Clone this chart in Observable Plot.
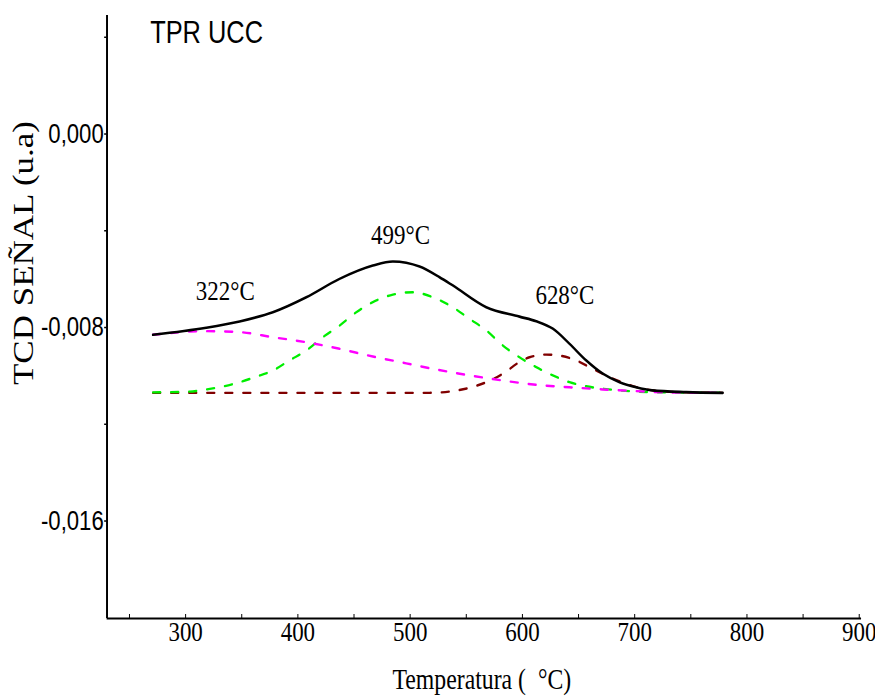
<!DOCTYPE html>
<html>
<head>
<meta charset="utf-8">
<script src="https://cdn.jsdelivr.net/npm/d3@7"></script>
<script src="https://cdn.jsdelivr.net/npm/@observablehq/plot@0.6"></script>
<style>
  html, body { margin: 0; padding: 0; background: #fff; overflow: hidden; }
  #chart { width: 875px; height: 696px; }
</style>
</head>
<body>
<div id="chart"></div>
<script>
// ---- data ----
const blackT = [270.9, 318.4, 348.1, 377.7, 407.5, 437.1, 466.8, 484.6, 508.4, 526.2, 538.0, 567.8, 597.4, 612.3, 627.1, 641.9, 656.8, 671.6, 686.5, 701.3, 715.9, 745.9, 778.5];
const blackV = [-0.00830, -0.00801, -0.00775, -0.00737, -0.00675, -0.00599, -0.00544, -0.00527, -0.00548, -0.00592, -0.00626, -0.00716, -0.00755, -0.00774, -0.00805, -0.00867, -0.00936, -0.00991, -0.01026, -0.01047, -0.01060, -0.01067, -0.01070];

const magentaT = [270.9, 318.4, 348.1, 377.7, 407.5, 437.1, 466.8, 496.5, 517.3, 552.9, 582.5, 612.3, 641.9, 671.6, 701.3, 731.0, 778.2];
const magentaV = [-0.00830, -0.00815, -0.00819, -0.00840, -0.00861, -0.00888, -0.00920, -0.00948, -0.00968, -0.00998, -0.01019, -0.01037, -0.01047, -0.01056, -0.01063, -0.01069, -0.01070];

const greenT = [270.9, 303.6, 318.4, 333.2, 348.1, 363.0, 377.7, 392.6, 407.5, 422.3, 437.1, 452.0, 466.8, 484.6, 502.4, 520.2, 538.0, 552.9, 567.8, 582.5, 597.4, 612.3, 627.1, 641.9, 656.8, 671.6, 686.5, 715.9, 778.2];
const greenV = [-0.01068, -0.01065, -0.01056, -0.01044, -0.01026, -0.01003, -0.00978, -0.00936, -0.00895, -0.00840, -0.00792, -0.00737, -0.00695, -0.00664, -0.00654, -0.00675, -0.00716, -0.00764, -0.00812, -0.00874, -0.00923, -0.00964, -0.00998, -0.01026, -0.01043, -0.01053, -0.01060, -0.01067, -0.01070];

const darkredT = [270.9, 400.0, 495.0, 517.3, 538.0, 552.9, 567.8, 582.5, 597.4, 606.3, 621.2, 633.0, 647.9, 662.7, 677.6, 692.4, 707.2, 722.0, 745.9, 778.2];
const darkredV = [-0.01070, -0.01070, -0.01070, -0.01070, -0.01063, -0.01049, -0.01026, -0.00991, -0.00943, -0.00923, -0.00912, -0.00916, -0.00936, -0.00971, -0.01005, -0.01033, -0.01053, -0.01063, -0.01068, -0.01070];

const peakLabels = ["322°C", "499°C", "628°C"];
const peakLabelT = [335.3, 491.4, 637.8];
const peakLabelV = [-0.00688, -0.00453, -0.00701];

const titleText = ["TPR UCC"];
const titleT = [268.4];
const titleV = [0.00375];

const xLabelTicks = [300, 400, 500, 600, 700, 800, 900];
const xMinorTicks = [250, 300, 350, 400, 450, 500, 550, 600, 650, 700, 750, 800, 850, 900];
const yLabelTicks = [0, -0.008, -0.016];
const yMinorTicks = [0.004, 0, -0.004, -0.008, -0.012, -0.016];

const xDomain = [230, 902];
const yDomain = [-0.02003, 0.0049];

const xTitle = "Temperatura (  °C)";
const yTitle = "TCD SEÑAL (u.a)";

// ---- build ----
const series = (T, V) => T.map((t, i) => ({t, v: V[i]}));
const SERIF = "'Liberation Serif', 'Times New Roman', serif";
const SANS = "'Liberation Sans', Arial, sans-serif";
const fmtY = d => d3.format(".3f")(d).replace(".", ",").replace("\u2212", "-");
const dash = "9,13";

const W = 1067, H = 696;

const svg = Plot.plot({
  width: W,
  height: H,
  marginLeft: 130,
  marginRight: 17,
  marginTop: 15,
  marginBottom: 78,
  x: {domain: xDomain},
  y: {domain: yDomain},
  style: {background: "white", color: "black"},
  marks: [
    // y axis ticks + labels
    Plot.axisY({
      ticks: yMinorTicks, tickSize: 3, tickPadding: 1,
      tickFormat: d => yLabelTicks.some(v => Math.abs(v - d) < 1e-9) ? fmtY(d) : "",
      fontSize: 27, fontFamily: SANS, label: null, strokeWidth: 1.5
    }),
    // x axis labels
    Plot.axisX({
      ticks: xLabelTicks, tickSize: 0, tickPadding: 3,
      tickFormat: d => String(d), fontSize: 28, fontFamily: SERIF, label: null
    }),
    // x minor ticks (inward)
    Plot.axisX({
      ticks: xMinorTicks, tickSize: 4, dy: -4, tickFormat: () => "", label: null, strokeWidth: 1.2
    }),
    // axis lines
    Plot.ruleX([xDomain[0]], {stroke: "black", strokeWidth: 2.4}),
    Plot.ruleY([yDomain[0]], {stroke: "black", strokeWidth: 2.2}),
    // component curves
    Plot.line(series(darkredT, darkredV), {x: "t", y: "v", stroke: "#800000", strokeWidth: 2.4, strokeDasharray: dash, curve: "monotone-x"}),
    Plot.line(series(greenT, greenV), {x: "t", y: "v", stroke: "#00ee00", strokeWidth: 2.4, strokeDasharray: dash, curve: "monotone-x"}),
    Plot.line(series(magentaT, magentaV), {x: "t", y: "v", stroke: "#ff00ff", strokeWidth: 2.4, strokeDasharray: dash, curve: "monotone-x"}),
    // measured curve
    Plot.line(series(blackT, blackV), {x: "t", y: "v", stroke: "black", strokeWidth: 2.6, curve: "monotone-x"}),
    // peak labels
    Plot.text(peakLabels, {x: peakLabelT, y: peakLabelV, text: d => d, fontSize: 28, fontFamily: SERIF, textAnchor: "middle", lineAnchor: "bottom", fill: "black"}),
    // title
    Plot.text(titleText, {x: titleT, y: titleV, text: d => d, fontSize: 31, fontFamily: SANS, textAnchor: "start", lineAnchor: "bottom", fill: "black"}),
    // axis titles
    Plot.text([xTitle], {frameAnchor: "bottom", dy: 70, dx: -3, text: d => d, fontSize: 29, fontFamily: SERIF, textAnchor: "middle", lineAnchor: "bottom", fill: "black"}),
    Plot.text([yTitle], {frameAnchor: "left", dx: -90, dy: -64, rotate: -90, text: d => d, fontSize: 35, fontFamily: SERIF, textAnchor: "middle", lineAnchor: "bottom", fill: "black"})
  ]
});

// the reference is horizontally compressed; reproduce with a non-uniform viewBox fit
svg.setAttribute("width", 875);
svg.setAttribute("height", 696);
svg.setAttribute("preserveAspectRatio", "none");
svg.style.width = "875px";
svg.style.height = "696px";
svg.style.maxWidth = "none";
document.getElementById("chart").appendChild(svg);
</script>
</body>
</html>
